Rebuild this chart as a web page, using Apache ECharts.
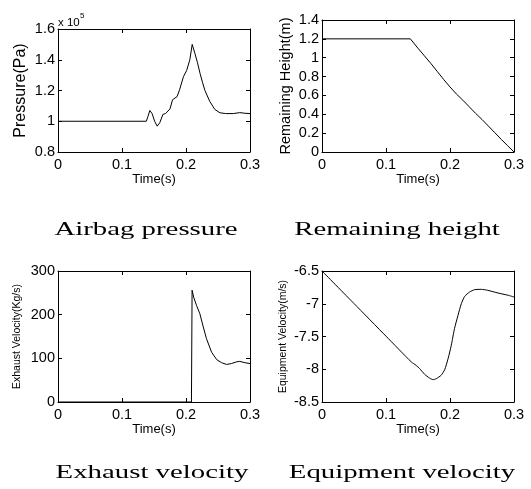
<!DOCTYPE html>
<html>
<head>
<meta charset="utf-8">
<script src="https://cdn.jsdelivr.net/npm/echarts@6/dist/echarts.min.js"></script>
<style>
html,body{margin:0;padding:0;background:#fff;}
#c{width:531px;height:489px;}
</style>
</head>
<body>
<div id="c"></div>
<script>
// ---- Data ----
const xTicks = [0, 0.1, 0.2, 0.3];

// Airbag pressure (x 10^5 Pa)
const pTime = [0, 0.138, 0.1405, 0.1435, 0.147, 0.151, 0.155, 0.159, 0.164, 0.168, 0.171, 0.175, 0.179, 0.182, 0.186, 0.19, 0.196, 0.201, 0.206, 0.2097, 0.214, 0.218, 0.222, 0.226, 0.2296, 0.237, 0.245, 0.253, 0.262, 0.274, 0.284, 0.292, 0.3];
const pVal  = [1.0, 1.0, 1.03, 1.07, 1.05, 1.0, 0.968, 0.99, 1.045, 1.05, 1.045, 1.08, 1.14, 1.13, 1.16, 1.205, 1.29, 1.33, 1.40, 1.50, 1.44, 1.38, 1.31, 1.25, 1.20, 1.13, 1.077, 1.055, 1.05, 1.05, 1.056, 1.052, 1.05];
const pTicks = [0.8, 1.0, 1.2, 1.4, 1.6];

// Remaining height (m)
const hTime = [0, 0.138, 0.15, 0.16, 0.17, 0.18, 0.19, 0.2, 0.21, 0.22, 0.23, 0.24, 0.25, 0.26, 0.27, 0.28, 0.29, 0.3];
const hVal  = [1.2, 1.2, 1.1, 1.02, 0.94, 0.855, 0.77, 0.69, 0.615, 0.55, 0.48, 0.41, 0.345, 0.275, 0.205, 0.135, 0.067, 0.0];
const hTicks = [0, 0.2, 0.4, 0.6, 0.8, 1.0, 1.2, 1.4];

// Exhaust velocity (Kg/s)
const eTime = [0, 0.2085, 0.2095, 0.212, 0.2165, 0.2217, 0.227, 0.232, 0.24, 0.248, 0.2557, 0.2635, 0.271, 0.279, 0.284, 0.292, 0.3];
const eVal  = [0, 0, 256, 240, 221, 202, 172, 145, 114, 97, 90, 86, 88, 92, 93, 90, 88];
const eTicks = [0, 100, 200, 300];

// Equipment velocity (m/s)
const vTime = [0, 0.05, 0.1, 0.1396, 0.147, 0.1526, 0.1604, 0.168, 0.1734, 0.1786, 0.186, 0.1917, 0.197, 0.202, 0.207, 0.2125, 0.2177, 0.223, 0.2307, 0.2385, 0.249, 0.259, 0.275, 0.2906, 0.3];
const vVal  = [-6.5, -6.997, -7.495, -7.889, -7.94, -7.99, -8.078, -8.134, -8.159, -8.144, -8.093, -8.006, -7.838, -7.635, -7.38, -7.177, -6.999, -6.887, -6.82, -6.785, -6.78, -6.795, -6.836, -6.87, -6.897];
const vTicks = [-8.5, -8, -7.5, -7, -6.5];

const yNames = ['Pressure(Pa)', 'Remaining Height(m)', 'Exhaust Velocity(Kg/s)', 'Equipment Velocity(m/s)'];
const xName = 'Time(s)';
const captions = ['Airbag pressure', 'Remaining height', 'Exhaust velocity', 'Equipment velocity'];

// ---- Layout / style ----
const SANS = 'Liberation Sans, Arial, sans-serif';
const SERIF = 'Liberation Serif, Times New Roman, serif';
const grids = [
  {left: 58, top: 29, width: 192, height: 123},
  {left: 322, top: 20, width: 192, height: 132},
  {left: 58, top: 271, width: 192, height: 131},
  {left: 322, top: 271, width: 192, height: 131}
];
const yNameSize = [16, 14.5, 10.5, 10.5];
const yNameGap = [29, 29, 35, 33];
const series = [[pTime, pVal], [hTime, hVal], [eTime, eVal], [vTime, vVal]];
const yTicksAll = [pTicks, hTicks, eTicks, vTicks];
const smoothing = [false, false, false, 0.2];

const line = {show: true, onZero: false, lineStyle: {color: '#000', width: 1}};
const tick = {show: true, inside: true, length: 4, lineStyle: {color: '#000', width: 1}};

const xAxis = [], yAxis = [], ser = [];
grids.forEach((g, i) => {
  const yt = yTicksAll[i];
  const yMin = yt[0], yMax = yt[yt.length - 1], yInt = yt[1] - yt[0];
  const xMin = xTicks[0], xMax = xTicks[xTicks.length - 1], xInt = xTicks[1] - xTicks[0];
  xAxis.push({
    type: 'value', gridIndex: i, position: 'bottom', min: xMin, max: xMax, interval: xInt,
    axisLine: line, axisTick: tick, splitLine: {show: false},
    axisLabel: {color: '#000', fontFamily: SANS, fontSize: 14.5, margin: 5, showMinLabel: true, showMaxLabel: true},
    name: xName, nameLocation: 'middle', nameGap: 10,
    nameTextStyle: {color: '#000', fontFamily: SANS, fontSize: 13, verticalAlign: 'top'}
  });
  xAxis.push({
    type: 'value', gridIndex: i, position: 'top', min: xMin, max: xMax, interval: xInt,
    axisLine: line, axisTick: tick, splitLine: {show: false}, axisLabel: {show: false}
  });
  yAxis.push({
    type: 'value', gridIndex: i, position: 'left', min: yMin, max: yMax, interval: yInt,
    axisLine: line, axisTick: tick, splitLine: {show: false},
    axisLabel: {color: '#000', fontFamily: SANS, fontSize: 14.5, margin: 3, showMinLabel: true, showMaxLabel: true},
    name: yNames[i], nameLocation: 'middle', nameGap: yNameGap[i], nameRotate: 90,
    nameTextStyle: {color: '#000', fontFamily: SANS, fontSize: yNameSize[i]}
  });
  yAxis.push({
    type: 'value', gridIndex: i, position: 'right', min: yMin, max: yMax, interval: yInt,
    axisLine: line, axisTick: tick, splitLine: {show: false}, axisLabel: {show: false}
  });
  const [t, v] = series[i];
  ser.push({
    type: 'line', xAxisIndex: 2 * i, yAxisIndex: 2 * i,
    data: t.map((x, k) => [x, v[k]]),
    showSymbol: false, symbol: 'none', smooth: smoothing[i],
    lineStyle: {color: '#000', width: 1}, silent: true
  });
});

const capPos = [[146, 230], [397, 230], [152, 473], [402, 473]];
const graphic = captions.map((c, i) => ({
  type: 'text', x: capPos[i][0], y: capPos[i][1], scaleX: 1.6, scaleY: 1,
  style: {text: c, x: 0, y: 0, fill: '#000', font: '18px ' + SERIF,
          textAlign: 'center', textVerticalAlign: 'middle', align: 'center', verticalAlign: 'middle'}
}));
graphic.push({
  type: 'text', x: 58, y: 22.5,
  style: {text: 'x 10', x: 0, y: 0, fill: '#000', font: '11.5px ' + SANS,
          textAlign: 'left', textVerticalAlign: 'middle', align: 'left', verticalAlign: 'middle'}
});
graphic.push({
  type: 'text', x: 80, y: 16,
  style: {text: '5', x: 0, y: 0, fill: '#000', font: '8px ' + SANS,
          textAlign: 'left', textVerticalAlign: 'middle', align: 'left', verticalAlign: 'middle'}
});

const chart = echarts.init(document.getElementById('c'), null, {renderer: 'canvas'});
chart.setOption({
  animation: false,
  backgroundColor: '#fff',
  grid: grids.map(g => Object.assign({containLabel: false}, g)),
  xAxis, yAxis, series: ser, graphic
});
</script>
</body>
</html>
